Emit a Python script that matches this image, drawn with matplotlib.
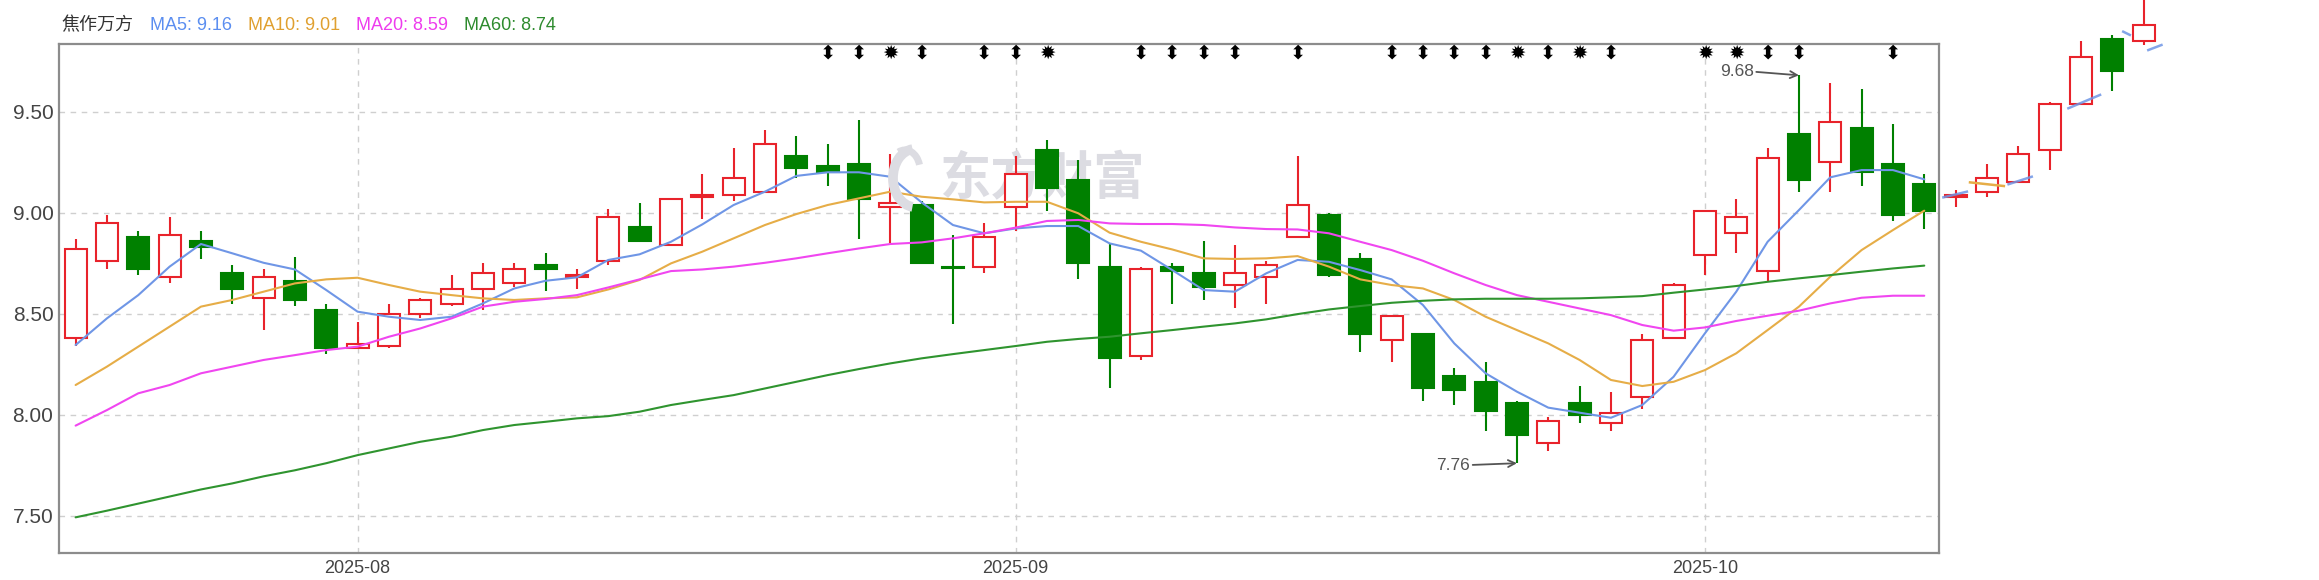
import matplotlib
matplotlib.use('Agg')
import matplotlib.pyplot as plt
from matplotlib.patches import Rectangle, Arc
from matplotlib.transforms import blended_transform_factory, IdentityTransform

# ---------------- data ----------------
opens = [8.38, 8.76, 8.88, 8.68, 8.86, 8.70, 8.58, 8.66, 8.52, 8.33,
         8.34, 8.50, 8.55, 8.62, 8.65, 8.74, 8.68, 8.76, 8.93, 8.84,
         9.08, 9.09, 9.10, 9.28, 9.23, 9.24, 9.03, 9.04, 8.73, 8.73,
         9.03, 9.31, 9.16, 8.73, 8.29, 8.73, 8.70, 8.64, 8.68, 8.88,
         8.99, 8.77, 8.37, 8.40, 8.19, 8.16, 8.06, 7.86, 8.06, 7.96,
         8.09, 8.38, 8.79, 8.90, 8.71, 9.39, 9.25, 9.42, 9.24, 9.14]
closes = [8.82, 8.95, 8.72, 8.89, 8.83, 8.62, 8.68, 8.57, 8.33, 8.35,
          8.50, 8.57, 8.62, 8.70, 8.72, 8.72, 8.69, 8.98, 8.86, 9.07,
          9.09, 9.17, 9.34, 9.22, 9.20, 9.07, 9.05, 8.75, 8.725, 8.88,
          9.19, 9.12, 8.75, 8.28, 8.72, 8.71, 8.63, 8.70, 8.74, 9.04,
          8.69, 8.40, 8.49, 8.13, 8.12, 8.02, 7.90, 7.97, 8.00, 8.01,
          8.37, 8.64, 9.01, 8.98, 9.27, 9.16, 9.45, 9.20, 8.99, 9.01]
highs = [8.87, 8.99, 8.91, 8.98, 8.91, 8.74, 8.72, 8.78, 8.55, 8.46,
         8.55, 8.58, 8.69, 8.75, 8.75, 8.80, 8.72, 9.02, 9.05, 9.07,
         9.19, 9.32, 9.41, 9.38, 9.34, 9.46, 9.29, 9.06, 8.89, 8.95,
         9.28, 9.36, 9.26, 8.85, 8.73, 8.75, 8.86, 8.84, 8.76, 9.28,
         9.00, 8.80, 8.49, 8.40, 8.23, 8.26, 8.07, 7.99, 8.14, 8.11,
         8.40, 8.65, 9.01, 9.07, 9.32, 9.68, 9.64, 9.61, 9.44, 9.19]
lows = [8.34, 8.72, 8.69, 8.65, 8.77, 8.55, 8.42, 8.54, 8.30, 8.33,
        8.33, 8.48, 8.54, 8.52, 8.63, 8.61, 8.62, 8.74, 8.86, 8.84,
        8.97, 9.06, 9.10, 9.17, 9.13, 8.87, 8.85, 8.75, 8.45, 8.70,
        8.91, 9.01, 8.67, 8.13, 8.27, 8.55, 8.57, 8.53, 8.55, 8.88,
        8.68, 8.31, 8.26, 8.07, 8.05, 7.92, 7.76, 7.82, 7.96, 7.92,
        8.03, 8.38, 8.69, 8.80, 8.66, 9.10, 9.10, 9.13, 8.96, 8.92]

# candles drawn past the right edge of the plot in the reference
ext_open = [9.08, 9.10, 9.15, 9.31, 9.54, 9.86, 9.85]
ext_close = [9.09, 9.17, 9.29, 9.54, 9.77, 9.70, 9.93]
ext_high = [9.11, 9.24, 9.33, 9.55, 9.85, 9.88, 10.06]
ext_low = [9.03, 9.08, 9.15, 9.21, 9.54, 9.60, 9.83]

ma5 = [8.345, 8.477, 8.592, 8.733, 8.845, 8.799, 8.752, 8.719, 8.617, 8.510,
       8.485, 8.469, 8.485, 8.551, 8.625, 8.663, 8.680, 8.766, 8.794, 8.856,
       8.942, 9.038, 9.104, 9.182, 9.200, 9.200, 9.178, 9.051, 8.939, 8.898,
       8.922, 8.934, 8.934, 8.848, 8.812, 8.716, 8.617, 8.609, 8.700, 8.766,
       8.757, 8.716, 8.670, 8.543, 8.353, 8.205, 8.114, 8.035, 8.010, 7.985,
       8.048, 8.188, 8.403, 8.609, 8.856, 9.013, 9.175, 9.211, 9.211, 9.165]
ma10 = [8.147, 8.238, 8.337, 8.436, 8.535, 8.568, 8.609, 8.650, 8.670, 8.678,
        8.642, 8.609, 8.592, 8.576, 8.568, 8.576, 8.581, 8.620, 8.667, 8.749,
        8.807, 8.873, 8.939, 8.993, 9.038, 9.071, 9.104, 9.079, 9.066, 9.051,
        9.054, 9.054, 8.997, 8.901, 8.856, 8.818, 8.774, 8.771, 8.774, 8.785,
        8.733, 8.670, 8.642, 8.625, 8.568, 8.485, 8.419, 8.353, 8.271, 8.172,
        8.142, 8.163, 8.221, 8.304, 8.419, 8.535, 8.683, 8.815, 8.914, 9.010]
ma20 = [7.946, 8.023, 8.106, 8.147, 8.205, 8.238, 8.271, 8.295, 8.320, 8.337,
        8.386, 8.427, 8.477, 8.535, 8.559, 8.573, 8.592, 8.630, 8.670, 8.711,
        8.719, 8.733, 8.752, 8.774, 8.799, 8.823, 8.845, 8.853, 8.873, 8.898,
        8.926, 8.959, 8.964, 8.947, 8.944, 8.944, 8.939, 8.927, 8.919, 8.917,
        8.898, 8.856, 8.815, 8.762, 8.700, 8.642, 8.592, 8.559, 8.526, 8.493,
        8.444, 8.416, 8.432, 8.464, 8.490, 8.515, 8.551, 8.579, 8.589, 8.589]
ma60 = [7.492, 7.525, 7.560, 7.595, 7.630, 7.660, 7.695, 7.725, 7.760, 7.800,
        7.833, 7.866, 7.891, 7.924, 7.949, 7.965, 7.982, 7.993, 8.015, 8.048,
        8.073, 8.097, 8.130, 8.163, 8.196, 8.226, 8.254, 8.279, 8.300, 8.320,
        8.340, 8.361, 8.375, 8.386, 8.403, 8.419, 8.436, 8.452, 8.472, 8.498,
        8.521, 8.538, 8.554, 8.564, 8.571, 8.574, 8.574, 8.574, 8.576, 8.581,
        8.587, 8.604, 8.620, 8.637, 8.658, 8.675, 8.691, 8.708, 8.724, 8.738]

# stray MA fragments outside the plot
ext_ma5_x = [[59.61, 60.36], [61.69, 62.43], [63.6, 64.61], [65.35, 65.56], [66.15, 66.57]]
ext_ma5_y = [[9.076, 9.104], [9.141, 9.178], [9.517, 9.583], [9.896, 9.880], [9.805, 9.830]]
ext_ma10_x = [60.46, 61.54]
ext_ma10_y = [9.150, 9.132]

tick_pos = [9, 30, 52]
tick_labels = ['2025-08', '2025-09', '2025-10']
yticks = [7.50, 8.00, 8.50, 9.00, 9.50]

arrow_marks = [24, 25, 27, 29, 30, 34, 35, 36, 37, 39, 42, 43, 44, 45, 47, 49, 54, 55, 58]
star_marks = [26, 31, 46, 48, 52, 53]

title = '焦作万方'
ma_labels = ['MA5: 9.16', 'MA10: 9.01', 'MA20: 8.59', 'MA60: 8.74']

# ---------------- styles ----------------
RED = '#e8232b'
GREEN = '#008000'
MA_COLORS = ['#6f96e6', '#e6ad47', '#f046f0', '#2f942f']
TXT_COLORS = ['#5b8ef0', '#e0a030', '#ee3cee', '#2e8b2e']
WM = '#dcdce2'

plt.rcParams['font.family'] = ['Liberation Sans', 'Noto Sans CJK SC', 'DejaVu Sans']

W, H = 2319, 580
fig = plt.figure(figsize=(W / 100, H / 100), dpi=100)
ax = fig.add_axes([59 / W, (H - 552.7) / H, 1880 / W, 508.7 / H])
ax.set_xlim(-0.53, 59.47)
ax.set_ylim(7.317, 9.835)


def draw_candles(xs, o, h, l, c, clip=True):
    for x, oo, hh, ll, cc in zip(xs, o, h, l, c):
        up = cc >= oo
        col = RED if up else GREEN
        ax.vlines(x, ll, hh, color=col, lw=1.5, zorder=3, clip_on=clip)
        bottom = min(oo, cc)
        height = max(abs(cc - oo), 0.006)
        rect = Rectangle((x - 0.35, bottom), 0.7, height,
                         facecolor='white' if up else GREEN,
                         edgecolor=col, lw=1.5, zorder=4, clip_on=clip)
        ax.add_patch(rect)


n = len(closes)
xs = list(range(n))
draw_candles(xs, opens, highs, lows, closes)
ext_xs = list(range(n, n + len(ext_close)))
draw_candles(ext_xs, ext_open, ext_high, ext_low, ext_close, clip=False)

for vals, col in zip([ma5, ma10, ma20, ma60], MA_COLORS):
    ax.plot(xs, vals, color=col, lw=1.5, zorder=5, solid_capstyle='round')

for sx, sy in zip(ext_ma5_x, ext_ma5_y):
    ax.plot(sx, sy, color=MA_COLORS[0], lw=1.8, zorder=5, clip_on=False, alpha=0.85)
ax.plot(ext_ma10_x, ext_ma10_y, color=MA_COLORS[1], lw=1.8, zorder=5, clip_on=False)

# grid & axes
ax.set_yticks(yticks)
ax.set_yticklabels([f'{v:.2f}' for v in yticks])
ax.set_xticks(tick_pos)
ax.set_xticklabels(tick_labels)
ax.grid(True, color='#cfcfcf', lw=1.0, linestyle=(0, (4, 4)), zorder=0)
ax.set_axisbelow(True)
ax.tick_params(axis='both', length=0, colors='#444444')
ax.tick_params(axis='y', pad=4, labelsize=15)
ax.tick_params(axis='x', pad=5, labelsize=13)
for sp in ax.spines.values():
    sp.set_color('#8c8c8c')
    sp.set_linewidth(1.6)

# watermark
ax.text(0.523, 0.735, '东方财富', transform=ax.transAxes, ha='center', va='center',
        fontsize=37, fontweight='bold', color=WM, family=['Noto Sans CJK SC'],
        zorder=1)
ident = IdentityTransform()
fig.add_artist(Arc((915, H - 178), 44, 58, theta1=95, theta2=265, lw=7,
                   color=WM, transform=ident, zorder=1))
fig.add_artist(Arc((905, H - 170), 30, 40, theta1=20, theta2=110, lw=5,
                   color=WM, transform=ident, zorder=1))

# top markers
trans = blended_transform_factory(ax.transData, ax.transAxes)
for i in arrow_marks:
    ax.text(i, 0.982, '⬍', transform=trans, ha='center', va='center',
            fontsize=14, color='black', family=['DejaVu Sans'], zorder=6)
for i in star_marks:
    ax.text(i, 0.982, '✹', transform=trans, ha='center', va='center',
            fontsize=14, color='black', family=['DejaVu Sans'], zorder=6)

# annotations
ax.annotate('9.68', xy=(55, 9.68), xytext=(53.55, 9.698), ha='right', va='center',
            fontsize=12.5, color='#555555', zorder=7,
            arrowprops=dict(arrowstyle='->', color='#555555', lw=1.3,
                            relpos=(1.0, 0.5), shrinkA=0, shrinkB=0))
ax.annotate('7.76', xy=(46, 7.76), xytext=(44.5, 7.751), ha='right', va='center',
            fontsize=12.5, color='#555555', zorder=7,
            arrowprops=dict(arrowstyle='->', color='#555555', lw=1.3,
                            relpos=(1.0, 0.5), shrinkA=0, shrinkB=0))

# header line
ty = 1 - 25 / H
fig.text(61 / W, ty, title, fontsize=13, color='#333333', va='center',
         family=['Noto Sans CJK SC'])
for lbl, xp, col in zip(ma_labels, [150, 248, 356, 464], TXT_COLORS):
    fig.text(xp / W, ty, lbl, fontsize=13, color=col, va='center')

fig.savefig('out.png', dpi=100)
